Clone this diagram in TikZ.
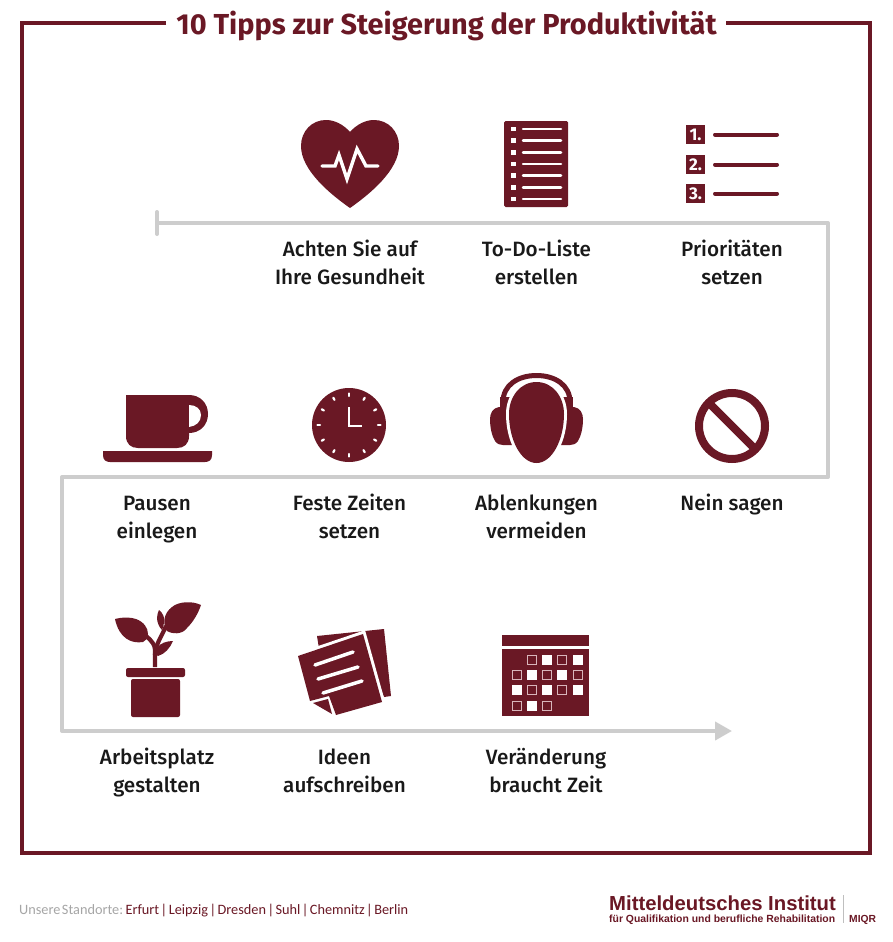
\documentclass[tikz,border=0pt]{standalone}
\usepackage{fontspec}
\usetikzlibrary{arrows.meta}
\setmainfont{Fira Sans}
\newfontfamily\labfont{Fira Sans Medium}
\newfontfamily\footfont[WordSpace=0.45]{Carlito}
\newfontfamily\logofont{Liberation Sans}[BoldFont={Liberation Sans Bold}]
\definecolor{wine}{HTML}{6A1825}
\definecolor{pathgray}{HTML}{CDCDCD}
\definecolor{softbox}{HTML}{D9B5BB}
\tikzset{
  wline/.style={draw=white,line width=2.5pt,line cap=round},
  tiplabel/.style={align=center,font=\labfont\fontsize{20.7}{28}\selectfont,text=black!90,inner sep=0pt},
  graypath/.style={draw=pathgray,line width=4pt,line join=round},
  calon/.style={fill=white,draw=none},
  caloff/.style={draw=softbox,line width=1pt},
}
\newcommand{\headshape}{(536.5,382) .. controls (553,382) and (564,397) .. (564,414) .. controls (564,440) and (552,463) .. (536.5,463) .. controls (521,463) and (509,440) .. (509,414) .. controls (509,397) and (520,382) .. cycle}
\newcommand{\frontsheet}{(298,656) -- (310,701) -- (329,696) -- (336,715) -- (382,702) -- (363,634) -- cycle}
\begin{document}
\begin{tikzpicture}[x=1pt,y=-1pt]
\useasboundingbox (0,0) rectangle (892,942);
\fill[white] (0,0) rectangle (892,942);
% frame
\coordinate (fa) at (166,23);\coordinate (fb) at (726,23);
\draw[wine,line width=4pt] (fa) -- (22,23) -- (22,853) -- (870,853) -- (870,23) -- (fb);
\node[font=\bfseries\fontsize{28.9}{30}\selectfont,text=wine,inner sep=0pt] (title) at (446.5,26) {10 Tipps zur Steigerung der Produktivität};
% gray route
\coordinate (s) at (157,223);\coordinate (c1) at (828,223);\coordinate (c2) at (828,477);\coordinate (c3) at (62,477);\coordinate (c4) at (62,731);\coordinate (e) at (732,731);
\coordinate (s1) at (157,212);\coordinate (s2) at (157,234);
\draw[graypath,line cap=round] (s1) -- (s2);
\draw[graypath,-{Triangle[length=17pt,width=18pt]}] (s) -- (c1) -- (c2) -- (c3) -- (c4) -- (e);
% heart
\fill[wine] (350,132) .. controls (343,124) and (334,120) .. (326,120) .. controls (312,120) and (301,131) .. (301,146) .. controls (301,170) and (330,194) .. (350,208) .. controls (370,194) and (399,170) .. (399,146) .. controls (399,131) and (388,120) .. (374,120) .. controls (366,120) and (357,124) .. (350,132) -- cycle;
\draw[white,line width=3.4pt,line cap=round,line join=miter] (322,166) -- (335,166) -- (339,155) -- (347,179) -- (357,149) -- (366,166) -- (378,166);
% list
\fill[wine,rounded corners=1.5pt] (504,121) rectangle (568,207);
\foreach \yy in {129,140.7,152.3,164,175.7,187.3,199}{
  \fill[white] (511,\yy-2.3) rectangle (516,\yy+2.3);
  \draw[wline] (523,\yy) -- (561,\yy);
}
% priorities
\foreach \yy/\nn in {125/1,155/2,184/3}{
  \node[fill=wine,text=white,minimum size=19pt,inner sep=0pt,font=\bfseries\fontsize{17}{17}\selectfont] (n\nn) at (695.5,\yy+9.5) {\nn.};
  \draw[wine,line width=4pt,line cap=round] (715,\yy+9.5) -- (777,\yy+9.5);
}
% cup
\fill[wine] (126,395) -- (189,395) .. controls (200,395) and (208,403) .. (208,414) .. controls (208,425) and (200,433) .. (189,433) -- (189,436) .. controls (189,444) and (184,448) .. (177,448) -- (138,448) .. controls (131,448) and (126,444) .. (126,436) -- cycle;
\fill[white] (189,405) .. controls (196,405) and (201,409) .. (201,415) .. controls (201,422) and (196,426) .. (189,427) -- cycle;
\fill[wine] (103,451) -- (212,451) -- (212,455) .. controls (212,460) and (209,462) .. (205,462) -- (110,462) .. controls (106,462) and (103,460) .. (103,455) -- cycle;
% clock
\fill[wine] (349,425) circle (37);
\foreach \aa in {0,30,...,330}{
  \draw[white,line width=2.2pt,line cap=round,shift={(349,425)}] (\aa:29) -- (\aa:31.5);
}
\draw[white,line width=2.2pt,line join=miter] (349,407) -- (349,426) -- (362,426);
% headphones
\foreach \mm/\oo in {1/0,-1/1073}{
  \begin{scope}[shift={(\oo,0)},xscale=\mm]
    \fill[wine] (512,407) -- (499,407) .. controls (493,408) and (490,413) .. (490,419) .. controls (490,428) and (492,436) .. (495,441) .. controls (497,444) and (500,445) .. (503,445) -- (512,445) -- cycle;
    \fill[wine] (500,397) rectangle (510,410);
  \end{scope}
}
\draw[wine,line width=5pt] (503,402) .. controls (503,385) and (518,375.5) .. (536.5,375.5) .. controls (555,375.5) and (570,385) .. (570,402);
\draw[white,line width=6pt] \headshape;
\fill[wine] \headshape;
% no sign
\draw[wine,line width=8pt] (732,426) circle (33);
\draw[wine,line width=8pt] (709,403) -- (755,449);
% plant
\fill[wine,rounded corners=2pt] (126,668) rectangle (185,677);
\fill[wine,rounded corners=2pt] (131,679) -- (131,717) -- (180,717) -- (180,679) -- cycle;
\draw[wine,line width=4.2pt] (155,667) -- (155,650) .. controls (155,645) and (152,641) .. (146,636);
\draw[wine,line width=4.2pt] (155,655) .. controls (155,645) and (162,636) .. (166,626);
\fill[wine] (115,619) .. controls (122,617) and (130,617) .. (136,619) .. controls (144,622) and (148,628) .. (148,634) .. controls (148,638) and (146,641) .. (143,642) .. controls (131,644) and (119,638) .. (115,619) -- cycle;
\fill[wine] (201,605) .. controls (193,601) and (179,601) .. (172,607) .. controls (164,613) and (162,623) .. (167,631) .. controls (172,634) and (182,635) .. (187,628) .. controls (193,622) and (198,614) .. (201,605) -- cycle;
\fill[wine] (159,610) .. controls (163,613) and (165,618) .. (164,622) .. controls (164,625) and (163,628) .. (162,630) .. controls (159,627) and (157,622) .. (157,618) .. controls (157,615) and (158,612) .. (159,610) -- cycle;
\fill[wine] (173,641) .. controls (167,641) and (160,643) .. (157,648) -- (155,653) -- (158,656) .. controls (165,654) and (170,648) .. (173,641) -- cycle;
% notes
\fill[wine] (317,636) -- (384,629) -- (391,696) -- (384,697) -- (370,660) -- (320,655) -- cycle;
\draw[white,line width=6pt,line join=miter] \frontsheet;
\fill[wine] \frontsheet;
\fill[wine] (313,703) -- (328,699) -- (332,714) -- cycle;
\foreach \ax/\ay/\bx/\by in {315/665/353/652,318/679/358/667,323/693/362/681}{
  \draw[white,line width=3.5pt,line cap=round] (\ax,\ay) -- (\bx,\by);
}
% calendar
\fill[wine] (502,635) rectangle (589,646);
\fill[wine] (502,649) rectangle (589,716);
\foreach \cx/\cy in {532/660,562/660,517/675,547/675,578/675,532/690,562/690,517/706,547/706}{
  \draw[caloff] (\cx-4.5,\cy-4.5) rectangle (\cx+4.5,\cy+4.5);
}
\foreach \cx/\cy in {547/660,578/660,532/675,562/675,517/690,547/690,578/690,532/706}{
  \fill[calon] (\cx-5,\cy-5) rectangle (\cx+5,\cy+5);
}
% labels
\node[tiplabel] (l1) at (350,264.7) {\strut Achten Sie auf\\\strut Ihre Gesundheit};
\node[tiplabel] (l2) at (536.5,264.7) {\strut To-Do-Liste\\\strut erstellen};
\node[tiplabel] (l3) at (732,264.7) {\strut Prioritäten\\\strut setzen};
\node[tiplabel] (l4) at (157,518.7) {\strut Pausen\\\strut einlegen};
\node[tiplabel] (l5) at (349.5,518.7) {\strut Feste Zeiten\\\strut setzen};
\node[tiplabel] (l6) at (536.5,518.7) {\strut Ablenkungen\\\strut vermeiden};
\node[tiplabel] (l7) at (732,504.7) {\strut Nein sagen};
\node[tiplabel] (l8) at (157,772.7) {\strut Arbeitsplatz\\\strut gestalten};
\node[tiplabel] (l9) at (344.5,772.7) {\strut Ideen\\\strut aufschreiben};
\node[tiplabel] (l10) at (546,772.7) {\strut Veränderung\\\strut braucht Zeit};
% footer
\node[anchor=base west,inner sep=0pt,font=\footfont\fontsize{14.3}{16}\selectfont,text=black!35] (foot) at (19,914) {Unsere Standorte: \textcolor{wine}{Erfurt | Leipzig | Dresden | Suhl | Chemnitz | Berlin}};
\node[anchor=base west,inner sep=0pt,font=\logofont\bfseries\fontsize{20.3}{22}\selectfont,text=wine] (logo1) at (609,910.5) {Mitteldeutsches Institut};
\node[anchor=base west,inner sep=0pt,font=\logofont\bfseries\fontsize{10.4}{12}\selectfont,text=wine] (logo2) at (609,922) {für Qualifikation und berufliche Rehabilitation};
\node[anchor=base west,inner sep=0pt,font=\logofont\bfseries\fontsize{10.3}{12}\selectfont,text=wine] (logo3) at (849,922) {MIQR};
\coordinate (v1) at (843,895);\coordinate (v2) at (843,923);
\draw[black!25,line width=0.7pt] (v1) -- (v2);
\end{tikzpicture}
\end{document}
